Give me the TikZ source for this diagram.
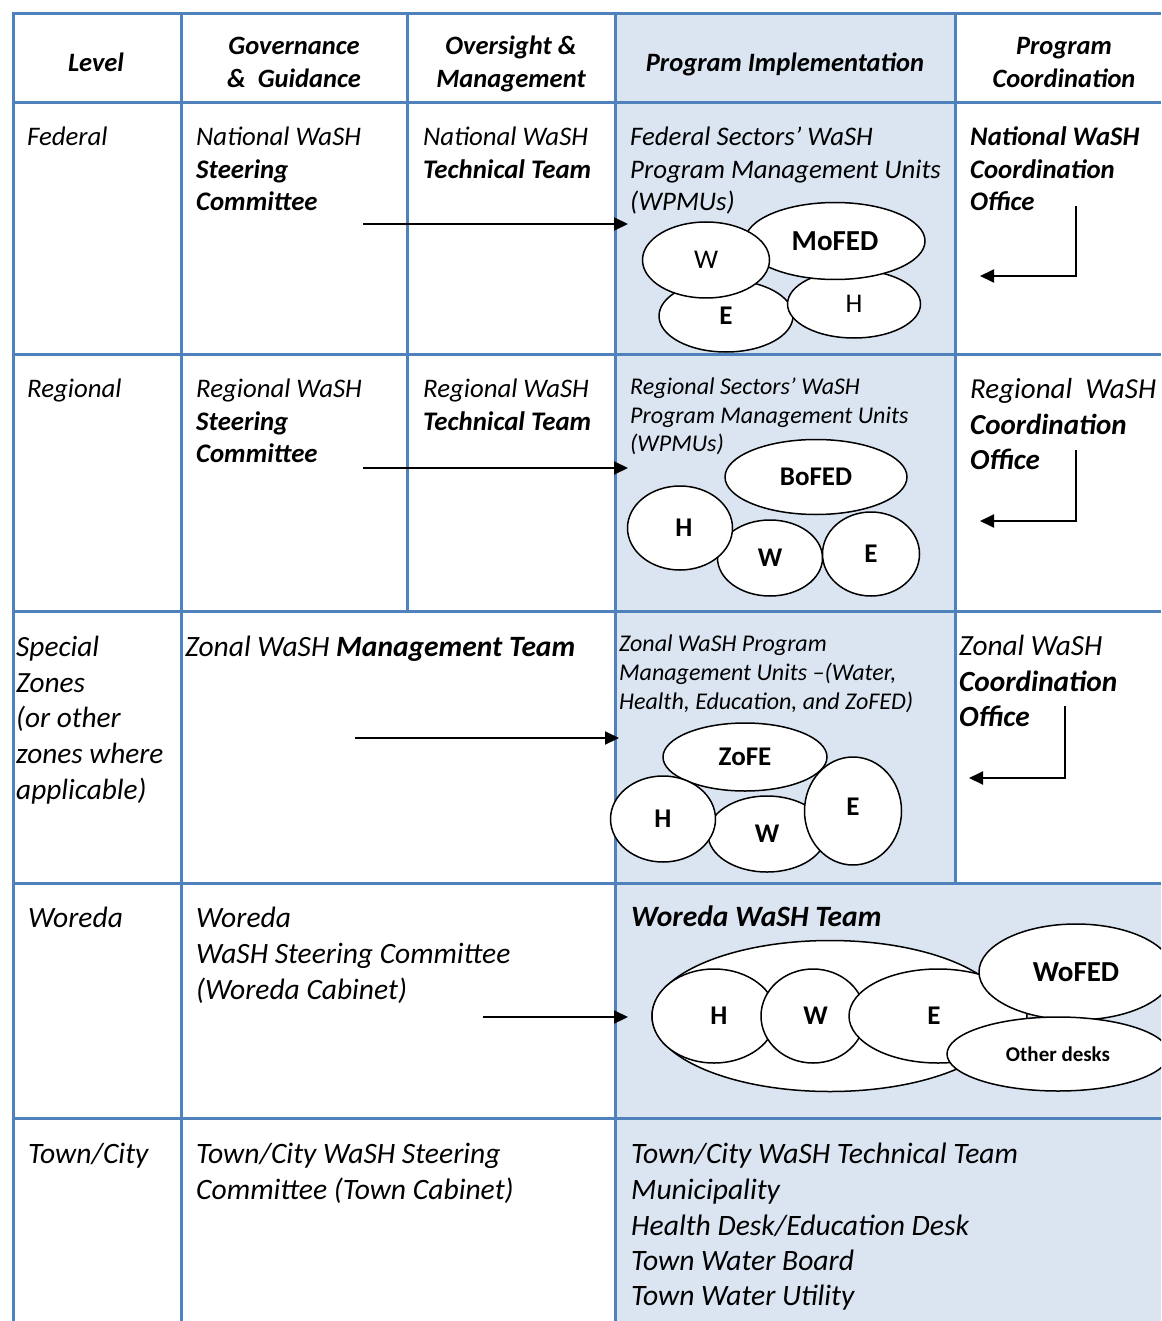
\documentclass[tikz,border=0pt]{standalone}
\usepackage{fontspec}
\setmainfont{Carlito}
\usetikzlibrary{shapes.geometric,arrows.meta}
\definecolor{gridblue}{HTML}{4F81BD}
\definecolor{cellblue}{HTML}{DBE5F1}
\newcommand\fsz[1]{\fontsize{#1}{#1}\selectfont}

\begin{document}
\begin{tikzpicture}[x=1pt,y=-1pt,
  gridline/.style={draw=gridblue,line width=3pt},
  lbl/.style={anchor=base west,inner sep=0pt},
  ti/.style={lbl,font=\fsz{#1}\itshape},
  tb/.style={lbl,font=\fsz{#1}\bfseries\itshape},
  hdr/.style={anchor=base,inner sep=0pt,font=\fsz{26.5}\bfseries\itshape},
  bubble/.style 2 args={ellipse,draw=black,fill=white,line width=1.5pt,inner sep=0pt,
    minimum width=#1,minimum height=#2},
  bl/.style={font=\fsz{#1}\bfseries},
  rl/.style={font=\fsz{#1}},
  arr/.style={-{Triangle[length=14pt,width=13pt]},line width=2pt,draw=black}
]
\clip (0,0) rectangle (1161,1321);

% shaded implementation cells
\fill[cellblue] (615,14) rectangle (955,883);
\fill[cellblue] (615,883) rectangle (1161,1321);

% table rules
\draw[gridline] (13,14) -- (1161,14);
\draw[gridline] (13,103) -- (1161,103);
\draw[gridline] (13,354) -- (1161,354);
\draw[gridline] (13,611) -- (1161,611);
\draw[gridline] (13,883) -- (1161,883);
\draw[gridline] (13,1118) -- (1161,1118);
\draw[gridline] (13,12.5) -- (13,1321);
\draw[gridline] (181,12.5) -- (181,1321);
\draw[gridline] (407,12.5) -- (407,611);
\draw[gridline] (615,12.5) -- (615,1321);
\draw[gridline] (955,12.5) -- (955,883);

% ---- Federal units
\node[bubble={134pt}{72pt},rl=27] (fE) at (726,316) {\bfseries E};
\node[bubble={133pt}{68pt},rl=27] (fH) at (854,304) {H};
\node[bubble={180pt}{77pt},bl=29] (fMoFED) at (835,241) {MoFED};
\node[bubble={127pt}{76pt},rl=27] (fW) at (706,260) {W};

% ---- Regional units
\node[bubble={105pt}{76pt},bl=27] (rW) at (770,558) {W};
\node[bubble={182pt}{75pt},bl=27] (rBoFED) at (816,477) {BoFED};
\node[bubble={105pt}{84pt},bl=27] (rH) at (680,528) {\hspace{8pt}H};
\node[bubble={97pt}{84pt},bl=27] (rE) at (871,554) {E};

% ---- Zonal units
\node[bubble={164pt}{68pt},bl=27] (zZoFE) at (745,757) {ZoFE};
\node[bubble={118pt}{76pt},bl=27] (zW) at (767,834) {W};
\node[bubble={105pt}{86pt},bl=27] (zH) at (663,819) {H};
\node[bubble={97pt}{108pt},bl=27] (zE) at (853,811) {\raisebox{8pt}{E}};

% ---- Woreda units
\node[bubble={356pt}{151pt}] (wAll) at (830,1016) {};
\node[bubble={124pt}{94pt},bl=27] (wH) at (714,1016) {\hspace{10pt}H};
\node[bubble={104pt}{94pt},bl=27] (wW) at (813,1016) {\hspace{5pt}W};
\node[bubble={178pt}{94pt},bl=27] (wE) at (938,1016) {\hspace{-8pt}E};
\node[bubble={194pt}{96pt},bl=29] (wWoFED) at (1076,972) {WoFED};
\node[bubble={222pt}{74pt},bl=21] (wOther) at (1058,1054) {Other desks};

% header
\node[hdr] (hLevel) at (96,72) {Level};
\node[hdr] (hGov1) at (294,55) {Governance};
\node[hdr] (hGov2) at (294,88) {\&\ \ Guidance};
\node[hdr] (hOvr1) at (511,55) {Oversight \&};
\node[hdr] (hOvr2) at (511,88) {Management};
\node[hdr] (hImpl) at (785,72) {Program Implementation};
\node[hdr] (hCoo1) at (1064,55) {Program};
\node[hdr] (hCoo2) at (1064,88) {Coordination};

% federal row
\node[ti=26.8] (fLvl) at (27,146) {Federal};
\node[ti=26.8] (fGov1) at (196,146) {National WaSH};
\node[tb=26.8] (fGov2) at (196,179) {Steering};
\node[tb=26.8] (fGov3) at (196,211) {Committee};
\node[ti=26.8] (fOvr1) at (423,146) {National WaSH};
\node[tb=26.8] (fOvr2) at (423,179) {Technical Team};
\node[ti=26.8] (fImp1) at (630,146) {Federal Sectors’ WaSH};
\node[ti=26.8] (fImp2) at (630,179) {Program Management Units};
\node[ti=26.8] (fImp3) at (630,211) {(WPMUs)};
\node[tb=26.8] (fCoo1) at (970,146) {National WaSH};
\node[tb=26.8] (fCoo2) at (970,179) {Coordination};
\node[tb=26.8] (fCoo3) at (970,211) {Office};

% regional row
\node[ti=26.8] (rLvl) at (27,397) {Regional};
\node[ti=26.8] (rGov1) at (196,397) {Regional WaSH};
\node[tb=26.8] (rGov2) at (196,430) {Steering};
\node[tb=26.8] (rGov3) at (196,462) {Committee};
\node[ti=26.8] (rOvr1) at (423,397) {Regional WaSH};
\node[tb=26.8] (rOvr2) at (423,430) {Technical Team};
\node[ti=24] (rImp1) at (630,394) {Regional Sectors’ WaSH};
\node[ti=24] (rImp2) at (630,423) {Program Management Units};
\node[ti=24] (rImp3) at (630,451) {(WPMUs)};
\node[ti=29] (rCoo1) at (970,398) {Regional\ \ WaSH};
\node[tb=29] (rCoo2) at (970,434) {Coordination};
\node[tb=29] (rCoo3) at (970,469) {Office};

% special zones row
\node[ti=29.3] (zLvl1) at (16,656) {Special};
\node[ti=29.3] (zLvl2) at (16,692) {Zones};
\node[ti=29.3] (zLvl3) at (16,727) {(or other};
\node[ti=29.3] (zLvl4) at (16,763) {zones where};
\node[ti=29.3] (zLvl5) at (16,799) {applicable)};
\node[ti=29.5] (zGov) at (185,656) {Zonal WaSH \textbf{Management Team}};
\node[ti=24] (zImp1) at (619,651) {Zonal WaSH Program};
\node[ti=24] (zImp2) at (619,680) {Management Units –(Water,};
\node[ti=24] (zImp3) at (619,709) {Health, Education, and ZoFED)};
\node[ti=29.3] (zCoo1) at (959,655) {Zonal WaSH};
\node[tb=29.3] (zCoo2) at (959,691) {Coordination};
\node[tb=29.3] (zCoo3) at (959,726) {Office};

% woreda row
\node[ti=29.5] (wLvl) at (28,927) {Woreda};
\node[ti=29.5] (wGov1) at (196,927) {Woreda};
\node[ti=29.5] (wGov2) at (196,963) {WaSH Steering Committee};
\node[ti=29.5] (wGov3) at (196,999) {(Woreda Cabinet)};
\node[tb=29.5] (wTeam) at (631,926) {Woreda WaSH Team};

% town/city row
\node[ti=29.6] (tLvl) at (28,1163) {Town/City};
\node[ti=29.6] (tGov1) at (196,1163) {Town/City WaSH Steering};
\node[ti=29.6] (tGov2) at (196,1199) {Committee (Town Cabinet)};
\node[ti=29.6] (tImp1) at (631,1163) {Town/City WaSH Technical Team};
\node[ti=29.6] (tImp2) at (631,1199) {Municipality};
\node[ti=29.6] (tImp3) at (631,1235) {Health Desk/Education Desk};
\node[ti=29.6] (tImp4) at (631,1270) {Town Water Board};
\node[ti=29.6] (tImp5) at (631,1305) {Town Water Utility};

% governance -> implementation arrows
\coordinate (fA) at (363,224); \coordinate (fB) at (628,224);
\coordinate (rA) at (363,468); \coordinate (rB) at (628,468);
\coordinate (zA) at (355,738); \coordinate (zB) at (619,738);
\coordinate (wA) at (483,1017); \coordinate (wB) at (628,1017);
\draw[arr] (fA) -- (fB);
\draw[arr] (rA) -- (rB);
\draw[arr] (zA) -- (zB);
\draw[arr] (wA) -- (wB);

% coordination office elbows
\coordinate (fc1) at (1076,206); \coordinate (fc2) at (1076,276); \coordinate (fc3) at (980,276);
\coordinate (rc1) at (1076,450); \coordinate (rc2) at (1076,521); \coordinate (rc3) at (980,521);
\coordinate (zc1) at (1065,706); \coordinate (zc2) at (1065,778); \coordinate (zc3) at (969,778);
\draw[arr] (fc1) -- (fc2) -- (fc3);
\draw[arr] (rc1) -- (rc2) -- (rc3);
\draw[arr] (zc1) -- (zc2) -- (zc3);
\end{tikzpicture}
\end{document}
